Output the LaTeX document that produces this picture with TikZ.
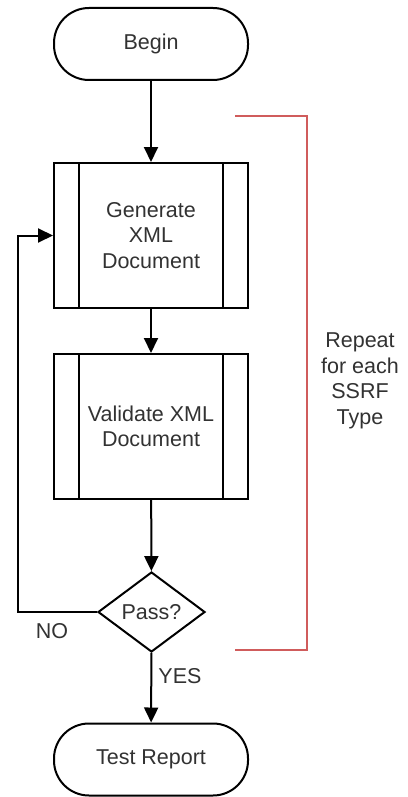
\documentclass[tikz,border=0pt]{standalone}
\usepackage{fontspec}
\setmainfont{Liberation Sans}
\usetikzlibrary{shapes.geometric,arrows.meta}
\definecolor{brk}{RGB}{208,92,92}
\definecolor{txt}{RGB}{50,50,50}
\begin{document}
\begin{tikzpicture}[x=1pt,y=-1pt,
  every node/.style={font=\fontsize{21.5}{25.5}\selectfont, text=txt},
  term/.style={draw=black, line width=2pt, rounded corners=35pt, minimum width=194pt, minimum height=72pt, inner sep=0pt},
  proc/.style={draw=black, line width=2pt, minimum width=194pt, minimum height=145pt, inner sep=0pt, align=center},
  dec/.style={draw=black, line width=2pt, diamond, minimum width=107pt, minimum height=80pt, inner sep=0pt},
  flow/.style={line width=2pt, -{Triangle[length=15pt,width=14pt]}},
  bracket/.style={draw=brk, line width=2pt},
  lbl/.style={inner sep=0pt}
]
\useasboundingbox (0,0) rectangle (407,797);
\node[term] (b) at (151,44) {Begin};
\node[proc] (g) at (151,235.5) {Generate\\XML\\Document};
\node[proc] (v) at (151,426.5) {Validate XML\\Document};
\node[dec] (d) at (151.5,612) {Pass?};
\node[term] (t) at (151,759.5) {Test Report};
\foreach \n in {g,v}{
  \draw[line width=2pt] ([xshift=26pt]\n.north west) -- ([xshift=26pt]\n.south west);
  \draw[line width=2pt] ([xshift=-26pt]\n.north east) -- ([xshift=-26pt]\n.south east);
}
\draw[flow] (b) -- (g);
\draw[flow] (g) -- (v);
\draw[flow] (v) -- (d);
\draw[flow] (d) -- (t);
\coordinate (lp) at (18,612);
\draw[flow] (d.west) -- (lp) |- (g.west);
\node[lbl] (no) at (52,631) {NO};
\node[lbl] (yes) at (180,676) {YES};
\coordinate (r1) at (235,116);
\coordinate (r2) at (307,116);
\coordinate (r3) at (307,650);
\coordinate (r4) at (235,650);
\draw[bracket] (r1) -- (r2) -- (r3) -- (r4);
\node[align=center, inner sep=0pt] (rep) at (360,381) {Repeat\\for each\\SSRF\\Type};
\end{tikzpicture}
\end{document}
